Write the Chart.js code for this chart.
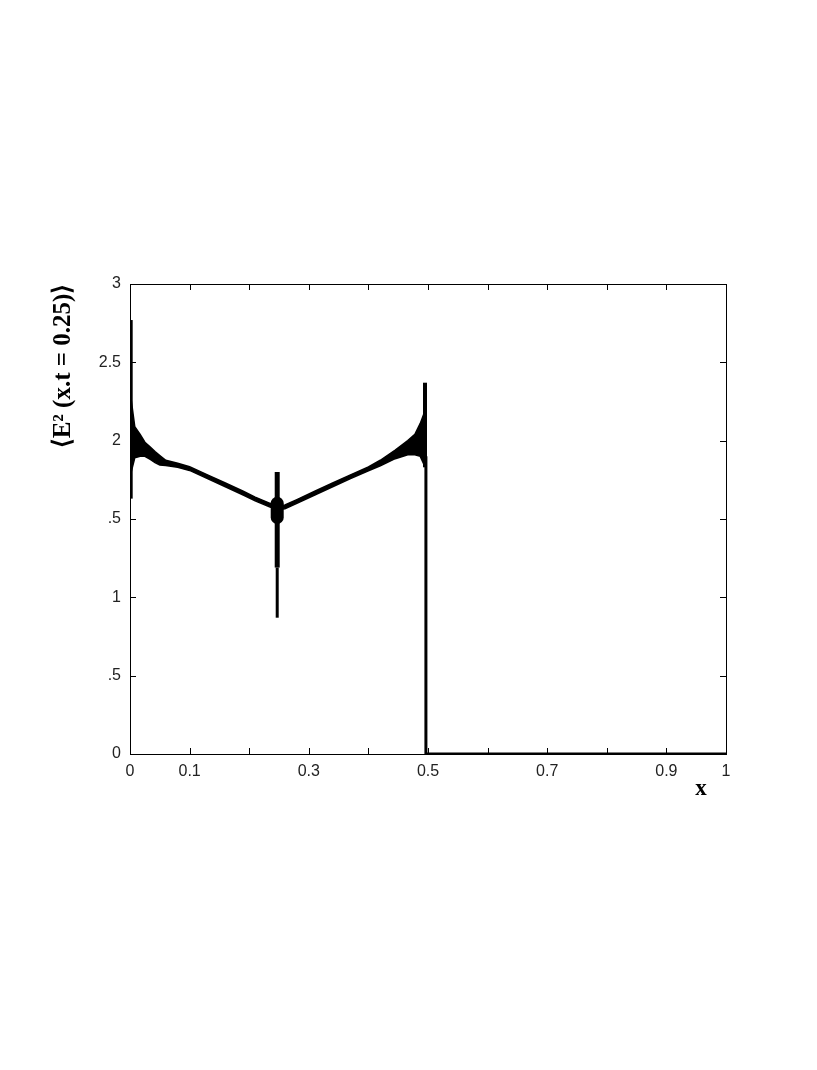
<!DOCTYPE html>
<html>
<head>
<meta charset="utf-8">
<script src="https://cdn.jsdelivr.net/npm/chart.js@4.4.0/dist/chart.umd.min.js"></script>
<style>
  html, body { margin: 0; padding: 0; background: #fff; }
  canvas { display: block; }
</style>
</head>
<body>
<canvas id="c" width="817" height="1070"></canvas>
<script>
// ---------- DATA ----------
// oscillating trace, read as its upper and lower edge
const bandX = [0.002, 0.008, 0.017, 0.025, 0.034, 0.042, 0.05, 0.06, 0.08, 0.1, 0.13, 0.16, 0.19, 0.21, 0.235, 0.248, 0.26, 0.28, 0.31, 0.34, 0.37, 0.4, 0.42, 0.445, 0.466, 0.478, 0.487, 0.493];
const bandUpper = [2.26, 2.09, 2.04, 1.99, 1.96, 1.93, 1.905, 1.875, 1.856, 1.834, 1.782, 1.730, 1.677, 1.640, 1.600, 1.584, 1.590, 1.624, 1.677, 1.730, 1.782, 1.832, 1.875, 1.94, 2.00, 2.04, 2.11, 2.17];
const bandLower = [1.80, 1.89, 1.90, 1.90, 1.88, 1.86, 1.845, 1.842, 1.830, 1.810, 1.758, 1.706, 1.653, 1.616, 1.576, 1.560, 1.566, 1.600, 1.653, 1.706, 1.758, 1.808, 1.840, 1.885, 1.91, 1.91, 1.90, 1.85];

// vertical spikes: x, bottom, top
const spikeX = [0.002, 0.247, 0.247, 0.247, 0.495];
const spikeLow = [1.63, 0.87, 1.19, 1.51, 1.83];
const spikeHigh = [2.77, 1.19, 1.80, 1.60, 2.37];

// drop to zero just before x = 0.5, then zero
const dropX = [0.4965, 0.4965, 1];
const dropY = [1.9, 0, 0];

const xLabelled = [0, 0.1, 0.3, 0.5, 0.7, 0.9, 1];
const yTickLabels = ["0", ".5", "1", ".5", "2", "2.5", "3"];

// styles
const spikeWidths = [3, 3, 5, 13, 4];
const spikeCaps = ["butt", "butt", "butt", "round", "butt"];
const tickFont = { family: "'Liberation Sans', Arial, sans-serif", size: 16 };

// ---------- DATASETS ----------
const pts = (xs, ys) => xs.map((x, i) => ({ x, y: ys[i] }));
const base = { borderColor: "#000", backgroundColor: "#000", pointRadius: 0, tension: 0, fill: false };

const datasets = [
  { ...base, data: pts(bandX, bandUpper), borderWidth: 1.5 },
  { ...base, data: pts(bandX, bandLower), borderWidth: 1.5, fill: "-1" },
  ...spikeX.map((x, i) => ({
    ...base,
    data: [{ x, y: spikeLow[i] }, { x, y: spikeHigh[i] }],
    borderWidth: spikeWidths[i],
    borderCapStyle: spikeCaps[i]
  })),
  { ...base, data: pts(dropX, dropY), borderWidth: 3 }
];

// ---------- FRAME, INWARD TICKS, AXIS TITLES ----------
const framePlugin = {
  id: "frame",
  afterDraw(chart) {
    const { ctx, chartArea: a, scales } = chart;
    ctx.save();
    ctx.strokeStyle = "#000";
    ctx.lineWidth = 1;
    ctx.strokeRect(a.left + 0.5, a.top + 0.5, a.right - a.left, a.bottom - a.top);
    ctx.beginPath();
    scales.x.ticks.forEach(t => {
      const px = Math.round(scales.x.getPixelForValue(t.value)) + 0.5;
      ctx.moveTo(px, a.bottom); ctx.lineTo(px, a.bottom - 6);
      ctx.moveTo(px, a.top); ctx.lineTo(px, a.top + 6);
    });
    scales.y.ticks.forEach(t => {
      const py = Math.round(scales.y.getPixelForValue(t.value)) + 0.5;
      ctx.moveTo(a.left, py); ctx.lineTo(a.left + 6, py);
      ctx.moveTo(a.right, py); ctx.lineTo(a.right - 6, py);
    });
    ctx.stroke();

    ctx.fillStyle = "#000";
    ctx.font = "bold 23px 'Liberation Serif', 'Times New Roman', serif";
    ctx.textAlign = "center";
    ctx.textBaseline = "middle";
    ctx.fillText("x", 701, 789);

    ctx.translate(64, 366);
    ctx.rotate(-Math.PI / 2);
    ctx.font = "bold 25px 'Liberation Serif', 'Times New Roman', serif";
    ctx.fillText("\u27E8E\u00B2 (x.t = 0.25)\u27E9", 0, 0);
    ctx.restore();
  }
};

new Chart(document.getElementById("c"), {
  type: "line",
  data: { datasets },
  plugins: [framePlugin],
  options: {
    responsive: false,
    animation: false,
    devicePixelRatio: 1,
    layout: { padding: { left: 0, right: 91, top: 284, bottom: 276 } },
    plugins: { legend: { display: false }, tooltip: { enabled: false } },
    scales: {
      x: {
        type: "linear", min: 0, max: 1,
        afterFit: s => { s.height = 40; },
        grid: { display: false, drawTicks: false },
        border: { display: false },
        ticks: {
          stepSize: 0.1, padding: 8, color: "#222", font: tickFont, maxRotation: 0, autoSkip: false,
          callback: v => {
            const r = Math.round(v * 10) / 10;
            return xLabelled.includes(r) ? String(r) : "";
          }
        }
      },
      y: {
        type: "linear", min: 0, max: 3,
        afterFit: s => { s.width = 130; },
        grid: { display: false, drawTicks: false },
        border: { display: false },
        ticks: {
          stepSize: 0.5, padding: 9, color: "#222", font: tickFont,
          callback: v => yTickLabels[Math.round(v * 2)]
        }
      }
    }
  }
});
</script>
</body>
</html>
